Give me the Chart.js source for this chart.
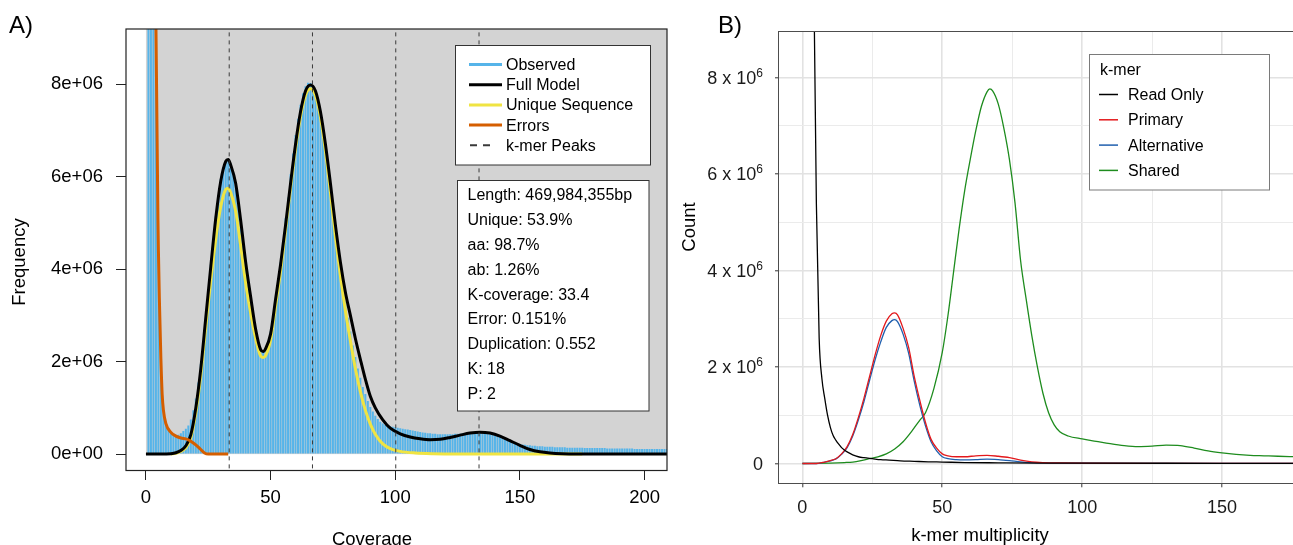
<!DOCTYPE html>
<html>
<head>
<meta charset="utf-8">
<script src="https://cdn.jsdelivr.net/npm/chart.js@4.4.1/dist/chart.umd.min.js"></script>
<style>
  html, body { margin: 0; padding: 0; background: #fff; }
  #wrap { position: relative; width: 1293px; height: 545px; overflow: hidden; }
  #chartA { position: absolute; left: 0; top: 0; }
  #chartB { position: absolute; left: 680px; top: 0; }
</style>
</head>
<body>
<div id="wrap">
  <canvas id="chartA" width="680" height="545"></canvas>
  <canvas id="chartB" width="613" height="545"></canvas>
</div>
<script>
/* ================== PANEL A DATA (values in millions) ================== */
// observed k-mer histogram, coverage 1..209
const observed = [
  60, 30, 15, 8.6, 4.3, 2.0, 0.95, 0.66, 0.55, 0.48,
  0.44, 0.42, 0.42, 0.45, 0.5, 0.55, 0.62, 0.75, 0.95, 1.2,
  1.55, 1.95, 2.45, 2.95, 3.5, 4.1, 4.65, 5.15, 5.6, 5.95,
  6.2, 6.33, 6.35, 6.28, 6.1, 5.82, 5.45, 5.0, 4.55, 4.1,
  3.65, 3.25, 2.9, 2.6, 2.4, 2.28, 2.25, 2.3, 2.45, 2.65,
  2.95, 3.3, 3.7, 4.15, 4.6, 5.1, 5.55, 6.05, 6.5, 6.9,
  7.25, 7.55, 7.8, 7.95, 8.03, 8.02, 7.95, 7.82, 7.6, 7.3,
  6.95, 6.6, 6.2, 5.8, 5.35, 4.9, 4.45, 4.05, 3.65, 3.3,
  2.95, 2.65, 2.35, 2.1, 1.85, 1.65, 1.45, 1.3, 1.15, 1.02,
  0.92, 0.83, 0.76, 0.7, 0.66, 0.63, 0.61, 0.6, 0.59, 0.58,
  0.57, 0.56, 0.55, 0.54, 0.53, 0.52, 0.51, 0.5, 0.49, 0.48,
  0.47, 0.46, 0.45, 0.45, 0.44, 0.44, 0.43, 0.43, 0.43, 0.43,
  0.43, 0.43, 0.43, 0.44, 0.44, 0.44, 0.45, 0.45, 0.45, 0.46,
  0.46, 0.46, 0.46, 0.46, 0.45, 0.45, 0.44, 0.43, 0.42, 0.41,
  0.39, 0.37, 0.35, 0.33, 0.31, 0.29, 0.27, 0.25, 0.23, 0.22,
  0.21, 0.2, 0.19, 0.19, 0.18, 0.18, 0.17, 0.17, 0.17, 0.16,
  0.16, 0.16, 0.16, 0.15, 0.15, 0.15, 0.15, 0.15, 0.14, 0.14,
  0.14, 0.14, 0.14, 0.14, 0.14, 0.13, 0.13, 0.13, 0.13, 0.13,
  0.13, 0.13, 0.13, 0.13, 0.12, 0.12, 0.12, 0.12, 0.12, 0.12,
  0.12, 0.12, 0.12, 0.12, 0.12, 0.11, 0.11, 0.11, 0.11, 0.11,
  0.11, 0.11, 0.11, 0.11, 0.11, 0.11, 0.11, 0.11, 0.11
];

const modelCov = [0, 6, 10, 12, 14, 16, 18, 20, 22, 24, 26, 28, 30, 32, 33, 34, 36, 38, 40, 42,
  44, 46, 47, 48, 50, 52, 54, 56, 58, 60, 62, 64, 66, 68, 70, 72, 74, 76, 78, 80,
  82, 84, 86, 88, 90, 92, 95, 98, 102, 106, 110, 114, 118, 122, 126, 130, 134, 138, 142, 146,
  150, 154, 158, 162, 167, 175, 190, 209];
const fullModel = [0, 0, 0.01, 0.03, 0.08, 0.18, 0.42, 1.0, 1.85, 2.95, 4.05, 5.1, 5.9, 6.33, 6.37, 6.25, 5.85, 5.05, 4.15, 3.4,
  2.7, 2.26, 2.22, 2.28, 2.6, 3.35, 4.1, 4.95, 5.85, 6.7, 7.4, 7.85, 7.98, 7.85, 7.4, 6.7, 5.85, 4.95, 4.15, 3.5,
  3.0, 2.5, 2.05, 1.62, 1.25, 1.0, 0.74, 0.56, 0.44, 0.37, 0.33, 0.31, 0.32, 0.36, 0.41, 0.455, 0.475, 0.455, 0.39, 0.29,
  0.19, 0.1, 0.05, 0.025, 0.01, 0.003, 0, 0];

const uniqueCov = [10, 12, 14, 16, 18, 20, 22, 24, 26, 28, 30, 32, 33, 34, 36, 38, 40, 42, 44, 46,
  47, 48, 50, 52, 54, 56, 58, 60, 62, 64, 66, 68, 70, 72, 74, 76, 78, 80, 82, 84,
  86, 88, 90, 92, 95, 98, 102, 108, 115, 130, 150, 175];
const uniqueSeq = [0, 0.02, 0.06, 0.14, 0.36, 0.9, 1.7, 2.75, 3.75, 4.65, 5.35, 5.72, 5.75, 5.65, 5.25, 4.5, 3.7, 3.05, 2.5, 2.12,
  2.09, 2.13, 2.47, 3.2, 3.95, 4.85, 5.75, 6.6, 7.3, 7.76, 7.9, 7.75, 7.28, 6.55, 5.65, 4.7, 3.85, 3.1, 2.45, 1.85,
  1.35, 0.95, 0.65, 0.43, 0.22, 0.12, 0.06, 0.025, 0.01, 0.003, 0, 0];

const errorCov = [1, 2, 3, 4, 5, 5.5, 6, 6.5, 7, 8, 10, 12, 14, 16, 17, 18, 20, 22, 23.5, 25, 33];
const errors = [100, 50, 22, 9.3, 4.4, 3.1, 2.05, 1.3, 0.95, 0.66, 0.47, 0.39, 0.35, 0.33, 0.31, 0.28, 0.2, 0.1, 0.025, 0, 0];

const peakCov = [33.4, 66.8, 100.2, 133.6];

const xTicksA = [0, 50, 100, 150, 200];
const yTicksA = [0, 2, 4, 6, 8];

const legendA = ["Observed", "Full Model", "Unique Sequence", "Errors", "k-mer Peaks"];
const statsLines = [
  "Length: 469,984,355bp", "Unique: 53.9%", "aa: 98.7%", "ab: 1.26%",
  "K-coverage: 33.4", "Error: 0.151%", "Duplication: 0.552", "K: 18", "P: 2"
];

/* ================== PANEL B DATA (values in millions) ================== */
const readCov = [1, 2, 3, 4, 5, 6, 7, 8, 9, 10, 11, 12, 13, 14, 15, 16, 18, 20, 22, 25,
  28, 31, 35, 40, 45, 50, 58, 70, 85, 100, 130, 176];
const readOnly = [80, 40, 20, 10.5, 5.4, 2.6, 1.75, 1.35, 1.0, 0.75, 0.58, 0.48, 0.4, 0.33, 0.28, 0.24, 0.18, 0.14, 0.12, 0.1,
  0.08, 0.07, 0.055, 0.045, 0.035, 0.03, 0.02, 0.015, 0.01, 0.008, 0.005, 0.003];

const asmCov = [0, 5, 8, 10, 12, 14, 16, 18, 20, 22, 24, 26, 28, 30, 32, 33, 34, 36, 38, 40,
  42, 44, 46, 48, 50, 52, 55, 58, 62, 66, 70, 74, 78, 82, 86, 92, 100, 130, 176];
const primary = [0, 0, 0.03, 0.06, 0.1, 0.2, 0.35, 0.6, 0.95, 1.35, 1.8, 2.25, 2.65, 2.95, 3.1, 3.12, 3.08, 2.8, 2.4, 1.8,
  1.3, 0.85, 0.5, 0.32, 0.2, 0.16, 0.14, 0.14, 0.16, 0.17, 0.15, 0.12, 0.07, 0.035, 0.02, 0.012, 0.008, 0.004, 0.002];
const alternative = [0, 0, 0.03, 0.055, 0.095, 0.19, 0.33, 0.57, 0.9, 1.28, 1.72, 2.15, 2.52, 2.82, 2.96, 2.98, 2.94, 2.68, 2.28, 1.7,
  1.2, 0.78, 0.45, 0.26, 0.14, 0.1, 0.08, 0.075, 0.08, 0.09, 0.08, 0.06, 0.035, 0.02, 0.012, 0.008, 0.005, 0.003, 0.002];

const sharedCov = [0, 10, 15, 18, 21, 24, 27, 30, 33, 36, 39, 42, 44, 47, 50, 52, 54, 56, 58, 60,
  62, 64, 66, 67, 68, 70, 72, 74, 76, 78, 80, 82, 84, 86, 88, 90, 92, 95, 100, 105,
  110, 115, 120, 125, 130, 135, 140, 145, 150, 155, 160, 165, 170, 176];
const shared = [0, 0.01, 0.02, 0.03, 0.06, 0.1, 0.14, 0.2, 0.3, 0.45, 0.66, 0.9, 1.05, 1.55, 2.3, 3.05, 3.95, 4.85, 5.65, 6.3,
  6.9, 7.4, 7.7, 7.76, 7.72, 7.45, 6.95, 6.3, 5.4, 4.2, 3.4, 2.65, 2.0, 1.45, 1.05, 0.8, 0.66, 0.57, 0.51, 0.46,
  0.41, 0.37, 0.35, 0.36, 0.38, 0.37, 0.32, 0.26, 0.22, 0.19, 0.17, 0.16, 0.15, 0.14];

const xGridB = [0, 25, 50, 75, 100, 125, 150];
const xLabelsB = [0, 50, 100, 150];
const yGridB = [0, 1, 2, 3, 4, 5, 6, 7, 8];
const yLabelsB = [0, 2, 4, 6, 8];
const legendBTitle = "k-mer";

/* ================== HELPERS ================== */
const FONT = '"Liberation Sans", Arial, Helvetica, sans-serif';
Chart.defaults.font.family = FONT;

const toXY = (xs, ys) => xs.map((x, i) => ({ x: x, y: ys[i] * 1e6 }));

function sciLabel(v) {
    if (v === 0) return "0e+00";
    const e = Math.floor(Math.log10(Math.abs(v)));
    const m = Math.round(v / Math.pow(10, e));
    return m + "e+" + String(e).padStart(2, "0");
}

/* ================== PANEL A ================== */
const panelA = {
    id: "panelA",
    beforeDatasetsDraw(chart) {
        const { ctx, chartArea: a, scales: { x, y } } = chart;
        const x0 = x.getPixelForValue(0);
        const y0 = y.getPixelForValue(0);
        ctx.save();
        ctx.fillStyle = "#d3d3d3";
        ctx.fillRect(x0, a.top, a.right - x0, y0 - a.top);
        ctx.restore();
    },
    afterDatasetsDraw(chart) {
        const { ctx, chartArea: a } = chart;
        const ds = chart.data.datasets;
        ctx.save();

        // box round the plot
        ctx.strokeStyle = "#222";
        ctx.lineWidth = 1.2;
        ctx.strokeRect(a.left, a.top, a.right - a.left, a.bottom - a.top);

        // legend
        ctx.fillStyle = "#fff";
        ctx.fillRect(455.5, 45.5, 195, 119.5);
        ctx.lineWidth = 1;
        ctx.strokeStyle = "#333";
        ctx.strokeRect(455.5, 45.5, 195, 119.5);
        ctx.font = "16px " + FONT;
        ctx.textAlign = "left";
        ctx.textBaseline = "middle";
        legendA.forEach((label, i) => {
            const yy = 64.5 + i * 20.2;
            const d = ds[i];
            ctx.strokeStyle = d.type === "bar" ? d.backgroundColor : d.borderColor;
            if (i === 4) {
                ctx.lineWidth = 2;
                ctx.setLineDash([7, 6]);
                ctx.beginPath(); ctx.moveTo(470, yy); ctx.lineTo(490, yy); ctx.stroke();
                ctx.setLineDash([]);
            } else {
                ctx.lineWidth = 3;
                ctx.beginPath(); ctx.moveTo(469, yy); ctx.lineTo(502, yy); ctx.stroke();
            }
            ctx.fillStyle = "#000";
            ctx.fillText(label, 506, yy + 1);
        });

        // stats box
        ctx.fillStyle = "#fff";
        ctx.fillRect(457.5, 180.5, 191.5, 230.5);
        ctx.strokeStyle = "#333";
        ctx.lineWidth = 1;
        ctx.strokeRect(457.5, 180.5, 191.5, 230.5);
        ctx.fillStyle = "#000";
        statsLines.forEach((t, i) => ctx.fillText(t, 467.5, 196 + i * 24.8));

        // titles
        ctx.font = "18.5px " + FONT;
        ctx.textAlign = "center";
        ctx.textBaseline = "alphabetic";
        ctx.fillText("Coverage", 372, 545);
        ctx.save();
        ctx.translate(24.5, 262);
        ctx.rotate(-Math.PI / 2);
        ctx.fillText("Frequency", 0, 0);
        ctx.restore();

        ctx.font = "24px " + FONT;
        ctx.textAlign = "left";
        ctx.fillText("A)", 9, 33);
        ctx.restore();
    }
};

const peakSets = peakCov.map(p => ({
    type: "line",
    label: "k-mer Peaks",
    data: [{ x: p, y: -1e6 }, { x: p, y: 10e6 }],
    borderColor: "#3a3a3a",
    borderWidth: 1,
    borderDash: [4, 4],
    pointRadius: 0,
    order: 0
}));

new Chart(document.getElementById("chartA"), {
    type: "bar",
    data: {
        datasets: [
            {
                type: "bar",
                label: "Observed",
                data: observed.map((v, i) => ({ x: i + 1, y: v * 1e6 })),
                backgroundColor: "#56B4E9",
                barPercentage: 0.8,
                categoryPercentage: 1,
                order: 5
            },
            {
                type: "line", label: "Full Model", data: toXY(modelCov, fullModel),
                borderColor: "#000", borderWidth: 3, pointRadius: 0,
                cubicInterpolationMode: "monotone", order: 2
            },
            {
                type: "line", label: "Unique Sequence", data: toXY(uniqueCov, uniqueSeq),
                borderColor: "#F0E442", borderWidth: 3, pointRadius: 0,
                cubicInterpolationMode: "monotone", order: 3
            },
            {
                type: "line", label: "Errors", data: toXY(errorCov, errors),
                borderColor: "#D55E00", borderWidth: 3, pointRadius: 0,
                cubicInterpolationMode: "monotone", order: 1
            },
            ...peakSets
        ]
    },
    options: {
        responsive: false,
        animation: false,
        layout: { padding: { top: 29, right: 13, left: 0, bottom: 0 } },
        plugins: { legend: { display: false }, tooltip: { enabled: false } },
        scales: {
            x: {
                type: "linear", min: -8, max: 209, offset: false,
                afterFit: s => { s.height = 74.5; },
                afterBuildTicks: s => { s.ticks = xTicksA.map(v => ({ value: v })); },
                grid: { drawOnChartArea: false, drawTicks: true, tickLength: 9.5, tickColor: "#222", offset: false },
                border: { display: false },
                ticks: { padding: 7, color: "#000", maxRotation: 0, autoSkip: false, font: { size: 18.5 } }
            },
            y: {
                type: "linear", min: -0.354e6, max: 9.19e6,
                afterFit: s => { s.width = 126; },
                afterBuildTicks: s => { s.ticks = yTicksA.map(v => ({ value: v * 1e6 })); },
                grid: { drawOnChartArea: false, drawTicks: true, tickLength: 10, tickColor: "#222" },
                border: { display: false },
                ticks: { padding: 13, color: "#000", autoSkip: false, font: { size: 18.5 }, callback: v => sciLabel(v) }
            }
        }
    },
    plugins: [panelA]
});

/* ================== PANEL B ================== */
const panelB = {
    id: "panelB",
    afterDatasetsDraw(chart) {
        const { ctx, chartArea: a, scales: { y } } = chart;
        const ds = chart.data.datasets;
        ctx.save();

        ctx.strokeStyle = "#4d4d4d";
        ctx.lineWidth = 1;
        ctx.strokeRect(Math.round(a.left) - 0.5, Math.round(a.top) + 0.5,
            a.right - a.left + 2, Math.round(a.bottom - a.top));

        // y tick labels with a raised exponent
        ctx.fillStyle = "#1a1a1a";
        ctx.textBaseline = "alphabetic";
        ctx.textAlign = "right";
        const right = a.left - 16;
        yLabelsB.forEach(v => {
            const py = y.getPixelForValue(v * 1e6);
            const base = py + 6.5;
            if (v === 0) {
                ctx.font = "18px " + FONT;
                ctx.fillText("0", right, base);
                return;
            }
            ctx.font = "12px " + FONT;
            const w = ctx.measureText("6").width;
            ctx.fillText("6", right, base - 7);
            ctx.font = "18px " + FONT;
            ctx.fillText(v + " x 10", right - w, base);
        });

        // legend
        ctx.fillStyle = "#fff";
        ctx.fillRect(409.5, 54.5, 180, 135.5);
        ctx.strokeStyle = "#7a7a7a";
        ctx.strokeRect(409.5, 54.5, 180, 135.5);
        ctx.font = "16px " + FONT;
        ctx.textAlign = "left";
        ctx.textBaseline = "middle";
        ctx.fillStyle = "#000";
        ctx.fillText(legendBTitle, 420, 71);
        ds.forEach((d, i) => {
            const yy = 94.5 + i * 25.3;
            ctx.strokeStyle = d.borderColor;
            ctx.lineWidth = 1.5;
            ctx.beginPath(); ctx.moveTo(419, yy); ctx.lineTo(438, yy); ctx.stroke();
            ctx.fillStyle = "#000";
            ctx.fillText(d.label, 448, yy + 1);
        });

        // titles
        ctx.font = "18.5px " + FONT;
        ctx.textAlign = "center";
        ctx.textBaseline = "alphabetic";
        ctx.fillText("k-mer multiplicity", 300, 541);
        ctx.save();
        ctx.translate(15, 227);
        ctx.rotate(-Math.PI / 2);
        ctx.fillText("Count", 0, 0);
        ctx.restore();

        ctx.font = "24px " + FONT;
        ctx.textAlign = "left";
        ctx.fillText("B)", 38, 33);
        ctx.restore();
    }
};

const isMajorX = v => xLabelsB.includes(v);
const isMajorY = v => yLabelsB.includes(v / 1e6);

new Chart(document.getElementById("chartB"), {
    type: "line",
    data: {
        datasets: [
            { label: "Read Only", data: toXY(readCov, readOnly), borderColor: "#000000" },
            { label: "Primary", data: toXY(asmCov, primary), borderColor: "#E3191C" },
            { label: "Alternative", data: toXY(asmCov, alternative), borderColor: "#1F5FAE" },
            { label: "Shared", data: toXY(sharedCov, shared), borderColor: "#1E8C1E" }
        ]
    },
    options: {
        responsive: false,
        animation: false,
        layout: { padding: { top: 31, right: 0, left: 0, bottom: 0 } },
        elements: {
            point: { radius: 0 },
            line: { borderWidth: 1.3, cubicInterpolationMode: "monotone" }
        },
        plugins: { legend: { display: false }, tooltip: { enabled: false } },
        scales: {
            x: {
                type: "linear", min: -8.35, max: 175.35,
                afterFit: s => { s.height = 61.7; },
                afterBuildTicks: s => { s.ticks = xGridB.map(v => ({ value: v })); },
                grid: {
                    color: c => isMajorX(c.tick.value) ? "#e2e2e2" : "#ebebeb",
                    lineWidth: c => isMajorX(c.tick.value) ? 1.6 : 1,
                    tickLength: 4,
                    tickWidth: 1,
                    tickColor: c => isMajorX(c.tick.value) ? "#333" : "rgba(0,0,0,0)"
                },
                border: { display: false },
                ticks: {
                    padding: 10, color: "#1a1a1a", maxRotation: 0, autoSkip: false, font: { size: 18 },
                    callback: v => isMajorX(v) ? String(v) : ""
                }
            },
            y: {
                type: "linear", min: -0.41e6, max: 8.96e6,
                afterFit: s => { s.width = 99; },
                afterBuildTicks: s => { s.ticks = yGridB.map(v => ({ value: v * 1e6 })); },
                grid: {
                    color: c => isMajorY(c.tick.value) ? "#e2e2e2" : "#ebebeb",
                    lineWidth: c => isMajorY(c.tick.value) ? 1.6 : 1,
                    tickLength: 4,
                    tickWidth: 1,
                    tickColor: c => isMajorY(c.tick.value) ? "#333" : "rgba(0,0,0,0)"
                },
                border: { display: false },
                // labels are painted by the panelB plugin (superscript exponent)
                ticks: { display: false, padding: 12, autoSkip: false, font: { size: 18 } }
            }
        }
    },
    plugins: [panelB]
});
</script>
</body>
</html>
